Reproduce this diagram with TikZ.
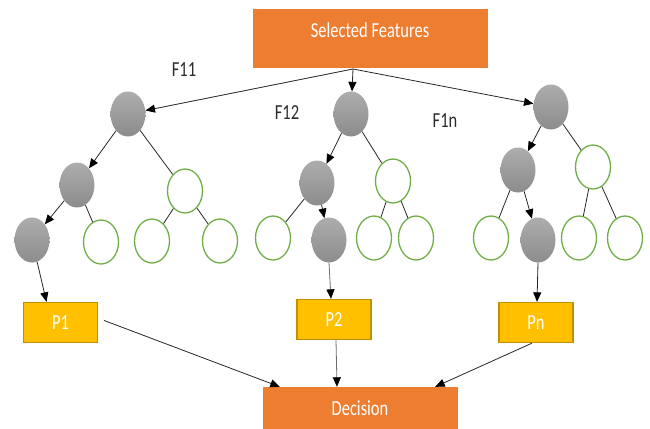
\documentclass[tikz,border=0pt]{standalone}
\usepackage{fontspec}
\setmainfont{Carlito}
\usetikzlibrary{shapes.geometric,arrows.meta}

\definecolor{boxorange}{HTML}{ED7D31}
\definecolor{boxgold}{HTML}{FFC000}
\definecolor{goldedge}{HTML}{BF9000}
\definecolor{leafgreen}{HTML}{70AD47}
\definecolor{greytop}{HTML}{ADADAD}
\definecolor{greybot}{HTML}{8C8C8C}
\definecolor{inkline}{HTML}{262626}
\definecolor{softline}{HTML}{6E6E6E}
\definecolor{labink}{HTML}{2B2B2B}

% tall, narrow lettering
\newcommand{\tallText}[1]{\scalebox{1}[1.3]{#1}}

\begin{document}
\begin{tikzpicture}[x=1pt,y=-1pt,
  txt/.style={font=\fontsize{16.5}{19}\selectfont, inner sep=0pt},
  boxtext/.style={txt, text=white},
  lab/.style={txt, text=labink},
  orangebox/.style={fill=boxorange, draw=none, inner sep=0pt},
  goldbox/.style={fill=boxgold, draw=goldedge, line width=1.3pt, inner sep=0pt,
    minimum width=74pt, minimum height=40pt, boxtext},
  pathnode/.style={ellipse, draw=none, top color=greytop, bottom color=greybot,
    minimum width=35pt, minimum height=45pt, inner sep=0pt},
  leaf/.style={ellipse, draw=leafgreen, fill=white, line width=1.3pt,
    minimum width=35pt, minimum height=44pt, inner sep=0pt},
  link/.style={draw=inkline, line width=0.8pt},
  arr/.style={link, -{Triangle[length=9.5pt,width=8pt,color=black]}},
  softarr/.style={arr, draw=softline}
]
\useasboundingbox (0,0) rectangle (650,428);
\clip (0,0) rectangle (650,428);

% top and bottom boxes
\node[orangebox, minimum width=235pt, minimum height=59pt] (sel) at (370.5,38.5) {};
\node[boxtext] (seltxt) at (370,30) {\tallText{Selected Features}};
\node[orangebox, minimum width=195pt, minimum height=53pt] (dec) at (360.5,413.5) {};
\node[boxtext] (dectxt) at (360,408) {\tallText{Decision}};

\coordinate (fork) at (353,69);

% feature labels
\node[lab] (f11) at (184,70) {\tallText{F11}};
\node[lab] (f12) at (287,113) {\tallText{F12}};
\node[lab] (f1n) at (445,121) {\tallText{F1n}};

% tree 1
\node[pathnode] (r1) at (128,114) {};
\node[pathnode] (a1) at (77,185) {};
\node[leaf] (b1) at (185,191) {};
\node[pathnode] (c1) at (32,240) {};
\node[leaf] (d1) at (101,242) {};
\node[leaf] (e1) at (152,241) {};
\node[leaf] (g1) at (220,241) {};

% tree 2
\node[pathnode] (r2) at (351,114) {};
\node[pathnode] (a2) at (317,183) {};
\node[leaf] (b2) at (393,181) {};
\node[leaf] (d2) at (273,238) {};
\node[pathnode] (c2) at (329,240) {};
\node[leaf] (e2) at (374,238) {};
\node[leaf] (g2) at (416,238) {};

% tree 3
\node[pathnode] (r3) at (551,107) {};
\node[pathnode] (a3) at (518,170) {};
\node[leaf] (b3) at (593,167) {};
\node[leaf] (d3) at (491,238) {};
\node[pathnode] (c3) at (538,240) {};
\node[leaf] (e3) at (579,238) {};
\node[leaf] (g3) at (625,238) {};

% predictions
\node[goldbox] (p1) at (60.5,322.5) {\tallText{P1}};
\node[goldbox] (p2) at (334,319.5) {\tallText{P2}};
\node[goldbox] (pn) at (536,322.5) {\tallText{Pn}};

% features into the trees
\draw[arr] (fork) -- (r1);
\draw[arr] (fork) -- (r2);
\draw[arr] (fork) -- (r3);

% tree edges
\draw[arr] (r1) -- (a1);
\draw[link] (r1) -- (b1);
\draw[arr] (a1) -- (c1);
\draw[link] (a1) -- (d1);
\draw[link] (b1) -- (e1);
\draw[link] (b1) -- (g1);

\draw[arr] (r2) -- (a2);
\draw[link] (r2) -- (b2);
\draw[link] (a2) -- (d2);
\draw[arr] (a2) -- (c2);
\draw[link] (b2) -- (e2);
\draw[link] (b2) -- (g2);

\draw[arr] (r3) -- (a3);
\draw[link] (r3) -- (b3);
\draw[link] (a3) -- (d3);
\draw[arr] (a3) -- (c3);
\draw[link] (b3) -- (e3);
\draw[link] (b3) -- (g3);

% leaves to predictions
\draw[arr] (c1) -- ([xshift=-14pt]p1.north);
\draw[softarr] (c2.south) -- ([xshift=-3pt]p2.north);
\draw[arr] (c3.south) -- ([xshift=1pt]pn.north);

% predictions to decision
\draw[arr] ([xshift=6pt,yshift=2pt]p1.east) -- ([xshift=17pt]dec.north west);
\draw[softarr] ([xshift=2pt]p2.south) -- ([xshift=-23.5pt]dec.north);
\draw[arr] ([xshift=-4pt]pn.south) -- ([xshift=-23pt]dec.north east);
\end{tikzpicture}
\end{document}
